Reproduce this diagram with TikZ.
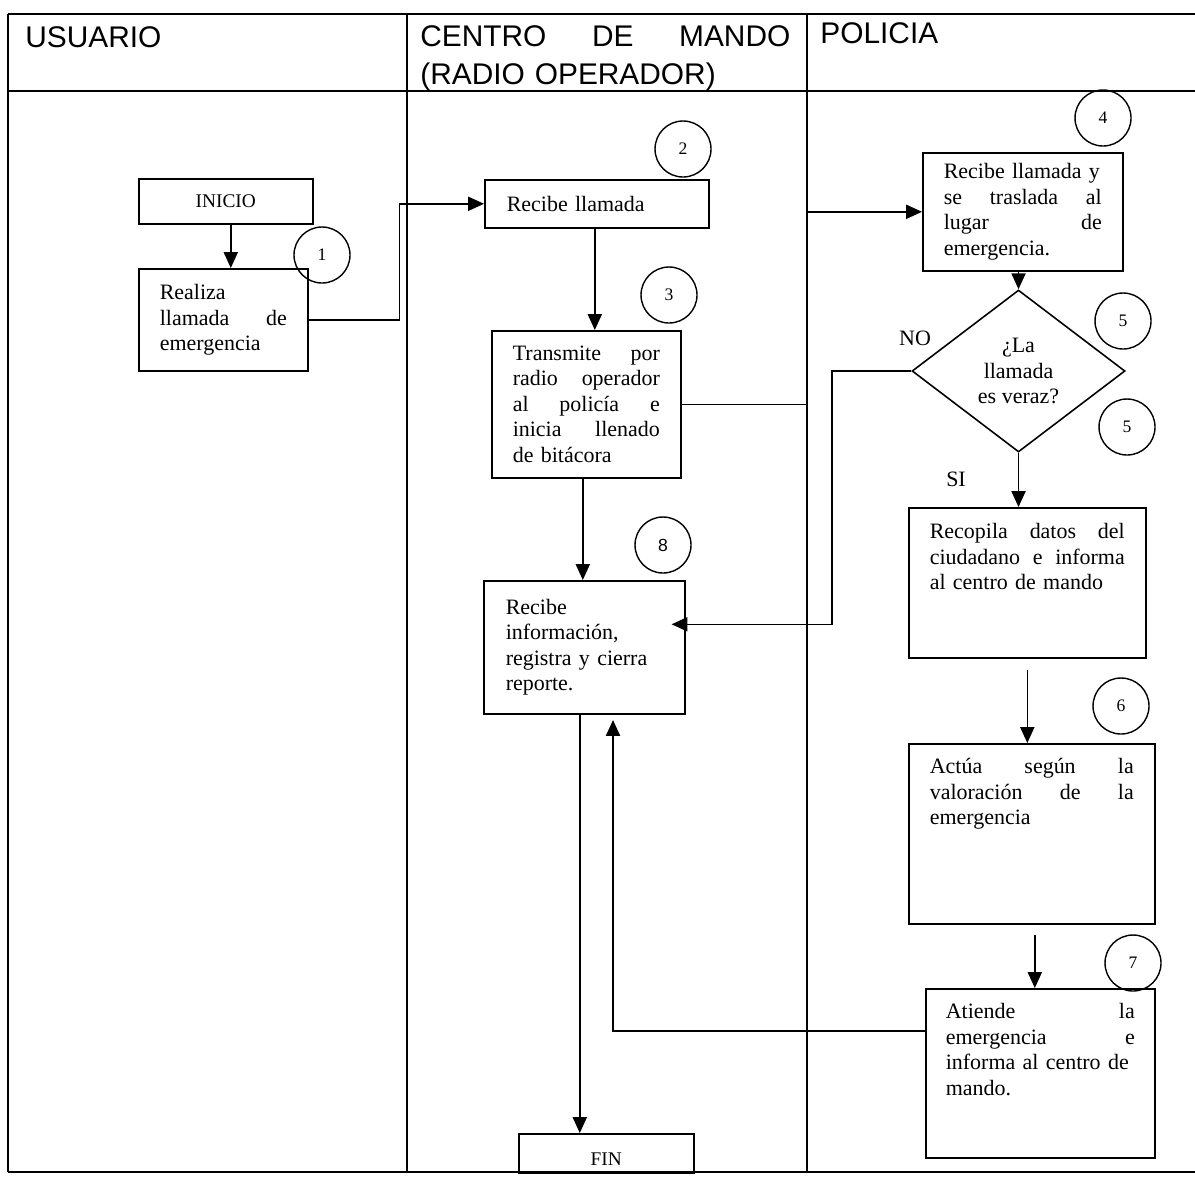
\documentclass[tikz,border=0pt]{standalone}
\usepackage{fontspec}
\setmainfont{Liberation Serif}
\newfontfamily\hdr{Liberation Sans}
\usetikzlibrary{arrows.meta,calc,shapes.geometric}
\newlength\pxu
\setlength\pxu{0.02cm}
\begin{document}
\begin{tikzpicture}[x=0.02cm, y=-0.02cm,
  frame/.style={line width=0.6pt},
  hd/.style={font=\hdr\fontsize{17}{22}\selectfont, inner sep=0pt},
  proc/.style={draw, line width=0.9pt, anchor=north west, inner ysep=0pt, align=left, font=\fontsize{12.5}{14.5}\selectfont},
  term/.style={draw, line width=0.9pt, anchor=north west, inner sep=0pt, font=\fontsize{11}{13}\selectfont},
  num/.style={circle, draw, line width=0.8pt, minimum size=56\pxu, inner sep=0pt, font=\fontsize{10}{12}\selectfont},
  dec/.style={diamond, draw, line width=0.9pt, inner sep=0pt, minimum width=213\pxu, minimum height=162\pxu, align=center, font=\fontsize{12.5}{14.5}\selectfont},
  lbl/.style={font=\fontsize{12.5}{14.5}\selectfont, inner sep=0pt},
  link/.style={line width=0.9pt},
  arr/.style={link, -{Triangle[length=9pt,width=8pt]}}
]
\useasboundingbox (0,0) rectangle (1195,1177);
% frame
\draw[frame] (8,14) -- (1195,14);
\draw[frame] (8,91) -- (1195,91);
\draw[frame] (8,1172) -- (1195,1172);
\draw[frame] (8,14) -- (8,1172);
\draw[frame] (407,14) -- (407,1172);
\draw[frame] (807,14) -- (807,1172);
% headers
\node[hd, anchor=base west] (hu) at (25,47) {USUARIO};
\node[hd, anchor=north west, text width=370\pxu, align=left] (hc) at (420,25) {CENTRO\hfill DE\hfill MANDO\\(RADIO OPERADOR)};
\node[hd, anchor=base west] (hp) at (820,43) {POLICIA};
% boxes
\node[term, minimum width=174\pxu, minimum height=45\pxu] (ini) at (138,178) {INICIO};
\node[proc, inner xsep=21\pxu, text width=127\pxu, minimum height=102\pxu] (b1) at (138,268) {Realiza\\llamada\hfill de\\emergencia};
\node[proc, inner xsep=22\pxu, text width=180\pxu, minimum height=48\pxu] (b2) at (484,179) {Recibe llamada};
\node[proc, inner xsep=21\pxu, text width=147\pxu, minimum height=147\pxu] (b3) at (491,330) {Transmite\hfill por\\radio\hfill operador\\al\hfill policía\hfill e\\inicia\hfill llenado\\de bitácora};
\node[proc, inner xsep=21\pxu, text width=158\pxu, minimum height=118\pxu] (b4) at (922,152) {Recibe llamada y\\se\hfill traslada\hfill al\\lugar\hfill de\\emergencia.};
\node[dec] (d5) at (1018.5,371) {¿La\\llamada\\es veraz?};
\node[proc, inner xsep=22\pxu, text width=157\pxu, minimum height=133\pxu] (b8) at (483,580) {Recibe\\información,\\registra y cierra\\reporte.};
\node[proc, inner xsep=21\pxu, text width=195\pxu] (b5) at (908,507) {\parbox[c][150\pxu][t]{195\pxu}{\vspace*{13\pxu}\strut Recopila\hfill datos\hfill del\\ciudadano\hfill e\hfill informa\\al centro de mando}};
\node[proc, inner xsep=21\pxu, text width=204\pxu] (b6) at (908,743) {\parbox[c][180\pxu][t]{204\pxu}{\vspace*{12\pxu}\strut Actúa\hfill según\hfill la\\valoración\hfill de\hfill la\\emergencia}};
\node[proc, inner xsep=20\pxu, text width=189\pxu] (b7) at (925,988) {\parbox[c][169\pxu][t]{189\pxu}{\vspace*{12\pxu}\strut Atiende\hfill la\\emergencia\hfill e\\informa al centro de\\mando.}};
\node[term, minimum width=175\pxu, text height=32\pxu, text depth=7\pxu] (fin) at (518,1133) {FIN};
% numbers
\node[num] (n1) at (322,255) {1};
\node[num] (n2) at (683,149) {2};
\node[num] (n3) at (669,295) {3};
\node[num] (n4) at (1103,118) {4};
\node[num] (n5a) at (1123,321) {5};
\node[num] (n5b) at (1127,427) {5};
\node[num] (n6) at (1121,706) {6};
\node[num] (n7) at (1133,963) {7};
\node[num] (n8) at (663,545) {\hdr 8};
% labels
\node[lbl] (no) at (915,338) {NO};
\node[lbl] (si) at (956,479) {SI};
% connectors
\coordinate (a1) at ($(ini.south)+(5,0)$);
\draw[arr] (a1) -- (a1 |- b1.north);
\draw[arr] (b1.east) -- ++(91,0) |- (b2.west);
\coordinate (a2) at ($(b2.south)+(-2,0)$);
\draw[arr] (a2) -- (a2 |- b3.north);
\draw[arr] (b3.east) -- ++(126,0) |- (b4.west);
\draw[arr] (d5.north |- b4.south) -- (d5.north);
\coordinate (t8) at ($(b8.east)+(-14,-23)$);
\draw[arr] (d5.west) -- ++(-79,0) |- (t8);
\draw[arr] (d5.south) -- (d5.south |- b5.north);
\coordinate (a5) at ($(b5.south)+(0,11)$);
\draw[arr] (a5) -- (a5 |- b6.north);
\coordinate (a6) at ($(b6.south)+(3,10)$);
\draw[arr] (a6) -- (a6 |- b7.north);
\coordinate (s7) at ($(b7.north west)+(0,43)$);
\coordinate (r8) at (613,720);
\draw[arr] (s7) -| (r8);
\coordinate (a3) at ($(b3.south)+(-3.5,0)$);
\draw[arr] (a3) -- (a3 |- b8.north);
\coordinate (a8) at ($(b8.south)+(-4.5,0)$);
\draw[arr] (a8) -- (a8 |- fin.north);
\end{tikzpicture}
\end{document}
